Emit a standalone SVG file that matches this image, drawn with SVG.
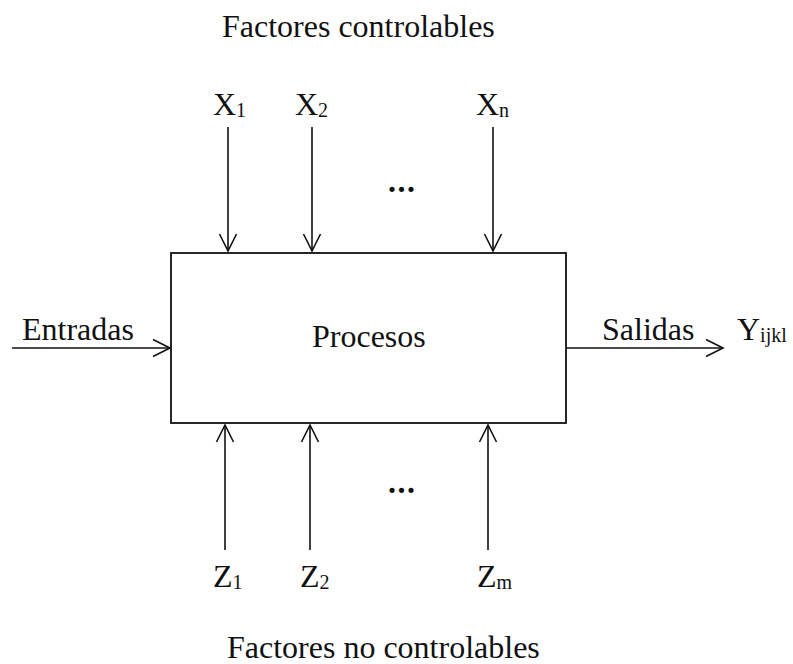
<svg xmlns="http://www.w3.org/2000/svg" width="793" height="664" viewBox="0 0 793 664">
  <style>
    text { font-family: "Liberation Serif", "Times New Roman", serif; font-size: 32px; fill: #111; }
    .sub { font-size: 20px; }
    .dots { font-weight: bold; letter-spacing: 1.5px; }
    .ln { stroke: #111; stroke-width: 1.6; fill: none; }
    .box { stroke: #111; stroke-width: 1.8; fill: #fff; }
  </style>
  <defs>
    <marker id="arr" viewBox="0 0 20 20" refX="18" refY="10" markerWidth="20" markerHeight="20" markerUnits="userSpaceOnUse" orient="auto">
      <path d="M1,1.5 L18,10 L1,18.5" fill="none" stroke="#111" stroke-width="1.6"/>
    </marker>
  </defs>

  <text id="title-top" x="222" y="37">Factores controlables</text>
  <text id="title-bottom" x="227" y="658">Factores no controlables</text>

  <g id="proceso">
    <rect class="box" x="171" y="253" width="395" height="170"/>
    <text x="312" y="347">Procesos</text>
  </g>

  <g id="x1"><text x="213" y="115">X<tspan class="sub" dy="2">1</tspan></text></g>
  <g id="x2"><text x="295" y="115">X<tspan class="sub" dy="2">2</tspan></text></g>
  <g id="xn"><text x="476" y="115">X<tspan class="sub" dy="2">n</tspan></text></g>
  <g id="dots-top"><text class="dots" x="388" y="192">...</text></g>

  <g id="z1"><text x="213" y="587">Z<tspan class="sub" dy="2">1</tspan></text></g>
  <g id="z2"><text x="300" y="587">Z<tspan class="sub" dy="2">2</tspan></text></g>
  <g id="zm"><text x="477" y="587">Z<tspan class="sub" dy="2">m</tspan></text></g>
  <g id="dots-bottom"><text class="dots" x="388" y="493">...</text></g>

  <g id="entradas"><text x="22" y="340">Entradas</text></g>
  <g id="salidas"><text x="602" y="340">Salidas</text></g>
  <g id="y"><text x="737" y="340">Y<tspan class="sub" dy="2">ijkl</tspan></text></g>

  <g id="connectors">
    <line class="ln" x1="228" y1="127" x2="228" y2="251" marker-end="url(#arr)"/>
    <line class="ln" x1="312" y1="127" x2="312" y2="251" marker-end="url(#arr)"/>
    <line class="ln" x1="493" y1="127" x2="493" y2="251" marker-end="url(#arr)"/>
    <line class="ln" x1="225" y1="550" x2="225" y2="425" marker-end="url(#arr)"/>
    <line class="ln" x1="310" y1="550" x2="310" y2="425" marker-end="url(#arr)"/>
    <line class="ln" x1="488" y1="550" x2="488" y2="425" marker-end="url(#arr)"/>
    <line class="ln" x1="12" y1="348" x2="170" y2="348" marker-end="url(#arr)"/>
    <line class="ln" x1="566" y1="348" x2="723" y2="348" marker-end="url(#arr)"/>
  </g>
</svg>
